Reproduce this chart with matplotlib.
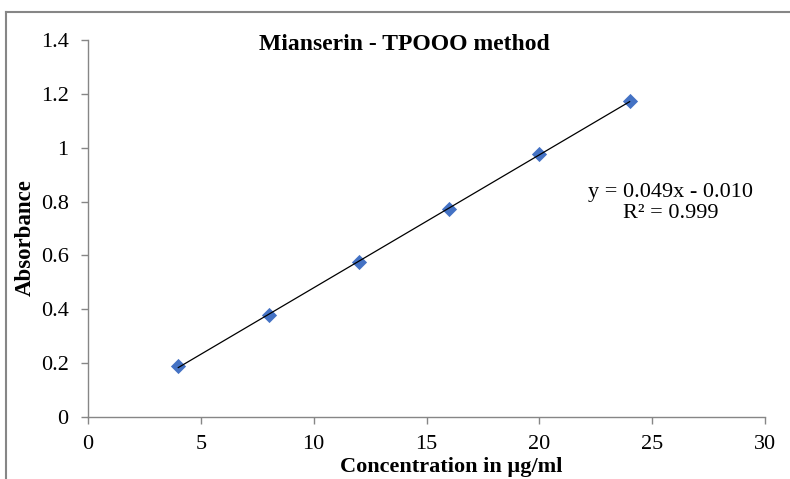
import matplotlib.pyplot as plt
import numpy as np

# Calibration data
conc = [4, 8, 12, 16, 20, 24]
absorbance = [0.19, 0.378, 0.575, 0.771, 0.975, 1.175]

x_ticks = [0, 5, 10, 15, 20, 25, 30]
y_ticks = [0, 0.2, 0.4, 0.6, 0.8, 1.0, 1.2, 1.4]
y_tick_labels = ['0', '0.2', '0.4', '0.6', '0.8', '1', '1.2', '1.4']

plt.rcParams['font.family'] = ['Liberation Serif', 'DejaVu Serif']

fig = plt.figure(figsize=(7.9, 4.79), dpi=100)
ax = fig.add_axes([0.1114, 0.1294, 0.857, 0.7871])

# linear trendline over the data range
slope, intercept = np.polyfit(conc, absorbance, 1)
xs = np.array([conc[0], conc[-1]])
ax.scatter(conc, absorbance, marker='D', s=60, color='#4472C4', zorder=2, linewidths=0)
ax.plot(xs, slope * xs + intercept, color='black', linewidth=0.9, zorder=3)

ax.set_xlim(0, 30)
ax.set_ylim(0, 1.4)
ax.set_xticks(x_ticks)
ax.set_yticks(y_ticks)
ax.set_yticklabels(y_tick_labels)
ax.tick_params(direction='out', length=5, width=1, color='#868686', labelsize=16)
ax.tick_params(axis='y', pad=9)
ax.tick_params(axis='x', pad=8)
for side in ['top', 'right']:
    ax.spines[side].set_visible(False)
for side in ['left', 'bottom']:
    ax.spines[side].set_color('#868686')
    ax.spines[side].set_linewidth(1)

ax.text(25.8, 0.795, 'y = 0.049x - 0.010\nR² = 0.999', ha='center', va='center',
        fontsize=16, linespacing=1.1)

fig.text(0.512, 0.908, 'Mianserin - TPOOO method', ha='center', va='center',
         fontsize=17, fontweight='bold')
fig.text(0.571, 0.026, 'Concentration in µg/ml', ha='center', va='center',
         fontsize=16, fontweight='bold')
fig.text(0.032, 0.505, 'Absorbance', ha='center', va='center', rotation=90,
         fontsize=16.5, fontweight='bold')

# outer chart border (top and left visible)
fig.add_artist(plt.Line2D([0.0076, 1.0], [0.975, 0.975], transform=fig.transFigure,
                          color='#868686', linewidth=1.5))
fig.add_artist(plt.Line2D([0.0076, 0.0076], [0.0, 0.975], transform=fig.transFigure,
                          color='#868686', linewidth=1.5))

fig.savefig('out.png', dpi=100)
